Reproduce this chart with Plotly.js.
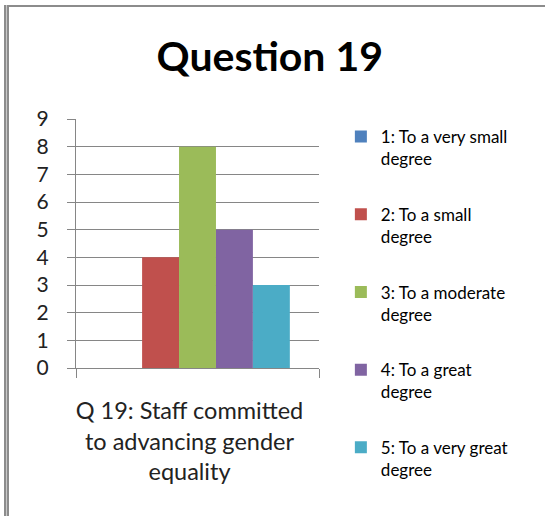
<!DOCTYPE html>
<html>
<head>
<meta charset="utf-8">
<script src="https://cdn.plot.ly/plotly-3.0.1.min.js"></script>
<style>
    html, body { margin: 0; padding: 0; background: #fff; }
    #chart { width: 545px; height: 516px; }
    .frame-top { position: absolute; left: 4px; top: 5px; width: 541px; height: 2px; background: #8c8c8c; }
    .frame-left { position: absolute; left: 4px; top: 5px; width: 1px; height: 511px; border-left: 2px solid #8c8c8c; border-right: 2px solid #8c8c8c; background: #c8c8c8; }
</style>
</head>
<body>
<div id="chart"></div>
<div class="frame-top"></div>
<div class="frame-left"></div>
<script>
const CATEGORY = ['Q 19: Staff committed<br>to advancing gender<br>equality'];
const SERIES_NAMES = [
    '1: To a very small<br>degree',
    '2: To a small<br>degree',
    '3: To a moderate<br>degree',
    '4: To a great<br>degree',
    '5: To a very great<br>degree',
];
const SERIES_VALUES = [0, 4, 8, 5, 3];
const SERIES_COLORS = ['#4f81bd', '#c0504d', '#9bbb59', '#8064a2', '#4bacc6'];
const Y_TICKS = [0, 1, 2, 3, 4, 5, 6, 7, 8, 9];

const FONT = 'Lato, "Open Sans", sans-serif';

const traces = SERIES_NAMES.map((name, index) => ({
    type: 'bar',
    name,
    x: CATEGORY,
    y: [SERIES_VALUES[index]],
    marker: { color: SERIES_COLORS[index] },
    legendgroup: `g${index}`,
}));

Plotly.newPlot('chart', traces, {
    width: 545,
    height: 516,
    margin: { l: 76, r: 226, t: 119, b: 148 },
    paper_bgcolor: '#ffffff',
    plot_bgcolor: '#ffffff',
    font: { family: FONT, color: '#000000' },
    title: {
        text: '<b>Question 19</b>',
        font: { size: 41, family: FONT, color: '#000000' },
        x: 0.495,
        xanchor: 'center',
        y: 0.89,
        yref: 'container',
        yanchor: 'middle',
    },
    barmode: 'group',
    bargap: 0.24,
    bargroupgap: 0,
    xaxis: {
        showline: true,
        linecolor: '#868686',
        ticks: 'outside',
        tickson: 'boundaries',
        ticklen: 9,
        tickcolor: '#868686',
        showgrid: false,
        ticklabelstandoff: 22,
        ticklabelshift: -8,
        tickfont: { size: 23.5, color: '#222222' },
        fixedrange: true,
    },
    yaxis: {
        range: [0, 9],
        tickvals: Y_TICKS,
        showline: true,
        linecolor: '#868686',
        ticks: 'outside',
        ticklen: 8,
        tickcolor: '#868686',
        gridcolor: '#868686',
        zeroline: false,
        ticklabelstandoff: 14,
        tickfont: { size: 21, color: '#222222' },
        fixedrange: true,
    },
    legend: {
        x: 1.09,
        xanchor: 'left',
        y: 1.0,
        yanchor: 'top',
        valign: 'top',
        tracegroupgap: 30.5,
        maxheight: 420,
        font: { size: 17, color: '#000000' },
    },
    showlegend: true,
}, {
    displayModeBar: false,
    staticPlot: true,
});
</script>
</body>
</html>
